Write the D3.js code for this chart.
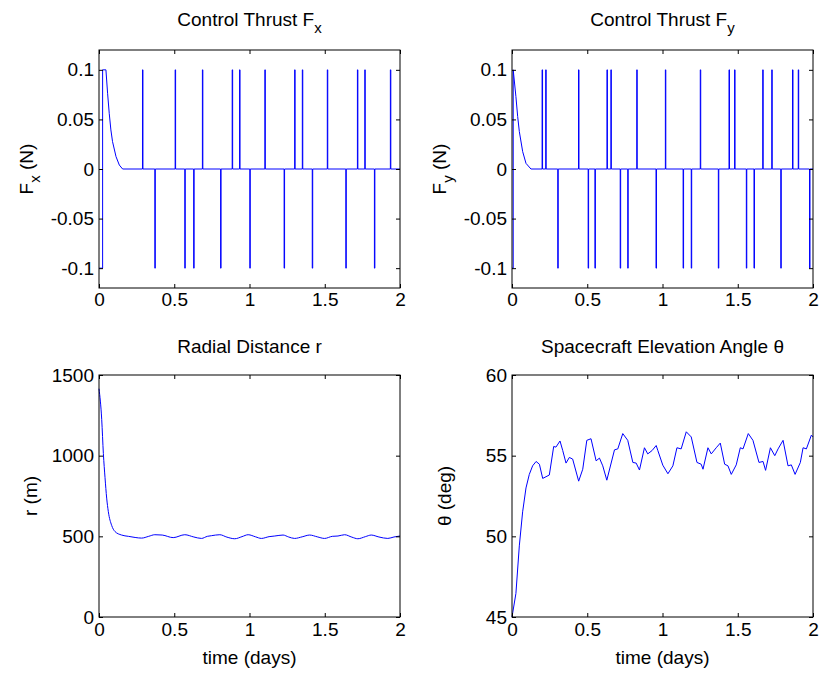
<!DOCTYPE html>
<html>
<head>
<meta charset="utf-8">
<script src="https://cdn.jsdelivr.net/npm/d3@7"></script>
<style>
  html, body { margin: 0; padding: 0; background: #fff; }
  svg { display: block; font-family: "Liberation Sans", Arial, Helvetica, sans-serif; }
</style>
</head>
<body>
<svg id="chart" width="821" height="674"></svg>
<script>
// ---------------- DATA ----------------
const xTicks = [0, 0.5, 1, 1.5, 2];
const xTickLabels = ["0", "0.5", "1", "1.5", "2"];
const fTicks = [-0.1, -0.05, 0, 0.05, 0.1];
const fTickLabels = ["-0.1", "-0.05", "0", "0.05", "0.1"];
const rTicks = [0, 500, 1000, 1500];
const rTickLabels = ["0", "500", "1000", "1500"];
const thTicks = [45, 50, 55, 60];
const thTickLabels = ["45", "50", "55", "60"];

// Fx: initial segment (t, value) then thrust pulses
const fxStartT = [0, 0.024, 0.024, 0.046, 0.057, 0.068, 0.079, 0.090, 0.113, 0.135, 0.157];
const fxStartV = [-0.1, -0.1, 0.1, 0.1, 0.0764, 0.0562, 0.0394, 0.0276, 0.0125, 0.004, 0];
const fxPulseUp = [0.289, 0.506, 0.687, 0.885, 0.934, 1.102, 1.300, 1.351, 1.517, 1.717, 1.766, 1.936];
const fxPulseDown = [0.371, 0.570, 0.629, 0.808, 1.002, 1.230, 1.417, 1.640, 1.830];

// Fy
const fyStartT = [0, 0.008, 0.008, 0.026, 0.0376, 0.0487, 0.071, 0.093, 0.126];
const fyStartV = [-0.1, -0.1, 0.1, 0.073, 0.053, 0.0377, 0.0175, 0.0057, 0];
const fyPulseUp = [0.200, 0.224, 0.442, 0.631, 0.657, 0.829, 1.019, 1.251, 1.442, 1.479, 1.666, 1.726, 1.864, 1.902];
const fyPulseDown = [0.304, 0.506, 0.551, 0.719, 0.769, 0.957, 1.137, 1.191, 1.371, 1.557, 1.608, 1.786, 1.977];

const pulseWidth = 0.003;

// radial distance r (m)
const rT = [0, 0.018, 0.029, 0.04, 0.051, 0.062, 0.084, 0.106, 0.15, 0.195, 0.24, 0.283, 0.33, 0.371, 0.42, 0.493, 0.57, 0.63, 0.681, 0.72, 0.747, 0.803, 0.85, 0.902, 0.95, 0.991, 1.04, 1.079, 1.13, 1.168, 1.223, 1.26, 1.30, 1.35, 1.40, 1.45, 1.499, 1.55, 1.588, 1.632, 1.68, 1.72, 1.77, 1.809, 1.86, 1.919, 1.96, 2.0];
const rV = [1415, 1225, 1013, 864, 737, 653, 568, 530, 508, 500, 493, 489, 500, 510, 508, 492, 510, 496, 487, 500, 504, 510, 495, 485, 498, 510, 497, 487, 498, 502, 508, 496, 487, 497, 508, 497, 487, 500, 502, 510, 495, 485, 498, 508, 496, 487, 496, 502];

// elevation angle theta (deg)
const thT = [0, 0.026, 0.0486, 0.0707, 0.093, 0.115, 0.137, 0.160, 0.182, 0.204, 0.248, 0.277, 0.292, 0.319, 0.337, 0.359, 0.381, 0.403, 0.443, 0.470, 0.497, 0.525, 0.559, 0.581, 0.603, 0.630, 0.681, 0.703, 0.736, 0.769, 0.803, 0.825, 0.847, 0.880, 0.902, 0.931, 0.958, 0.969, 1.002, 1.036, 1.069, 1.096, 1.124, 1.158, 1.191, 1.229, 1.257, 1.269, 1.302, 1.324, 1.357, 1.384, 1.413, 1.435, 1.457, 1.490, 1.517, 1.535, 1.570, 1.601, 1.641, 1.668, 1.685, 1.717, 1.746, 1.768, 1.801, 1.834, 1.856, 1.881, 1.916, 1.934, 1.956, 1.989, 2.0];
const thV = [45.0, 46.46, 49.41, 51.52, 53.0, 53.84, 54.37, 54.64, 54.47, 53.59, 53.80, 55.57, 55.53, 55.91, 55.32, 54.54, 54.89, 54.79, 53.42, 54.16, 55.95, 56.05, 54.68, 54.85, 54.37, 53.48, 55.36, 55.42, 56.37, 55.95, 54.58, 54.54, 54.11, 55.49, 55.11, 55.32, 55.63, 55.32, 54.41, 53.88, 54.37, 55.49, 55.42, 56.48, 56.16, 54.58, 54.47, 54.16, 55.49, 55.11, 55.49, 55.78, 54.47, 54.37, 53.84, 54.43, 55.49, 55.42, 56.37, 55.95, 54.58, 54.64, 54.09, 55.49, 55.0, 55.42, 55.95, 54.37, 54.43, 53.84, 54.58, 55.49, 55.42, 56.27, 56.16];

// ---------------- helpers ----------------
function buildThrust(startT, startV, up, down) {
  const pts = startT.map((t, i) => [t, startV[i]]);
  const pulses = up.map(t => [t, 0.1]).concat(down.map(t => [t, -0.1])).sort((a, b) => a[0] - b[0]);
  pulses.forEach(([t, v]) => {
    pts.push([t, 0], [t, v], [t + pulseWidth, v], [t + pulseWidth, 0]);
  });
  pts.push([2, 0]);
  return pts;
}

const svg = d3.select("#chart");
svg.append("rect").attr("width", 821).attr("height", 674).attr("fill", "#fff");

const FS = 19;
const SUB = 15;

function panel(opts) {
  const { x0, x1, y0, y1, yDomain, yTicks, yLabels, data, curve } = opts;
  const x = d3.scaleLinear().domain([0, 2]).range([x0, x1]);
  const y = d3.scaleLinear().domain(yDomain).range([y1, y0]);
  const g = svg.append("g");

  // line
  g.append("path")
    .datum(data)
    .attr("fill", "none")
    .attr("stroke", "#0000ff")
    .attr("stroke-width", 1)
    .attr("d", d3.line().x(d => x(d[0])).y(d => y(d[1])).curve(curve || d3.curveLinear));

  const fmtX = d => xTickLabels[xTicks.indexOf(d)];
  const fmtY = d => yLabels[yTicks.indexOf(d)];

  const axB = g.append("g").attr("transform", `translate(0,${y1})`)
    .call(d3.axisBottom(x).tickValues(xTicks).tickFormat(fmtX).tickSizeInner(-4).tickSizeOuter(0).tickPadding(opts.xPad));
  const axT = g.append("g").attr("transform", `translate(0,${y0})`)
    .call(d3.axisTop(x).tickValues(xTicks).tickFormat("").tickSizeInner(-4).tickSizeOuter(0));
  const axL = g.append("g").attr("transform", `translate(${x0},0)`)
    .call(d3.axisLeft(y).tickValues(yTicks).tickFormat(fmtY).tickSizeInner(-4).tickSizeOuter(0).tickPadding(5));
  const axR = g.append("g").attr("transform", `translate(${x1},0)`)
    .call(d3.axisRight(y).tickValues(yTicks).tickFormat("").tickSizeInner(-4).tickSizeOuter(0));
  [axB, axT, axL, axR].forEach(a => {
    a.select(".domain").remove();
    a.selectAll("line").attr("stroke", "#000");
    a.selectAll("text").attr("font-size", FS).attr("fill", "#000").attr("font-family", null);
  });

  // box
  g.append("rect").attr("x", x0).attr("y", y0).attr("width", x1 - x0).attr("height", y1 - y0)
    .attr("fill", "none").attr("stroke", "#000").attr("stroke-width", 1);

  // title
  const t = g.append("text").attr("x", (x0 + x1) / 2).attr("y", opts.titleY)
    .attr("text-anchor", "middle").attr("font-size", FS).attr("fill", "#000");
  t.append("tspan").text(opts.title);
  if (opts.titleSub) {
    t.append("tspan").attr("dy", 7).attr("font-size", SUB).text(opts.titleSub);
  }

  // y label
  const yl = g.append("text")
    .attr("transform", `translate(${opts.yLabelX},${(y0 + y1) / 2}) rotate(-90)`)
    .attr("text-anchor", "middle").attr("font-size", FS).attr("fill", "#000");
  yl.append("tspan").text(opts.yLabel[0]);
  if (opts.yLabel.length > 1) {
    yl.append("tspan").attr("dy", 7).attr("font-size", SUB).text(opts.yLabel[1]);
    yl.append("tspan").attr("dy", -7).text(opts.yLabel[2]);
  }

  if (opts.xLabel) {
    g.append("text").attr("x", (x0 + x1) / 2).attr("y", opts.xLabelY)
      .attr("text-anchor", "middle").attr("font-size", FS).attr("fill", "#000").text(opts.xLabel);
  }
}

panel({
  x0: 99, x1: 400, y0: 50, y1: 288, yDomain: [-0.12, 0.12], yTicks: fTicks, yLabels: fTickLabels,
  data: buildThrust(fxStartT, fxStartV, fxPulseUp, fxPulseDown), xPad: 5,
  title: "Control Thrust F", titleSub: "x", titleY: 26,
  yLabel: ["F", "x", " (N)"], yLabelX: 33
});
panel({
  x0: 512, x1: 813, y0: 50, y1: 288, yDomain: [-0.12, 0.12], yTicks: fTicks, yLabels: fTickLabels,
  data: buildThrust(fyStartT, fyStartV, fyPulseUp, fyPulseDown), xPad: 5,
  title: "Control Thrust F", titleSub: "y", titleY: 26,
  yLabel: ["F", "y", " (N)"], yLabelX: 446
});
panel({
  x0: 99, x1: 400, y0: 375, y1: 617, yDomain: [0, 1500], yTicks: rTicks, yLabels: rTickLabels,
  data: rT.map((t, i) => [t, rV[i]]), curve: d3.curveMonotoneX, xPad: 6,
  title: "Radial Distance r", titleY: 353,
  yLabel: ["r (m)"], yLabelX: 37, xLabel: "time (days)", xLabelY: 664
});
panel({
  x0: 512, x1: 813, y0: 375, y1: 617, yDomain: [45, 60], yTicks: thTicks, yLabels: thTickLabels,
  data: thT.map((t, i) => [t, thV[i]]), xPad: 6,
  title: "Spacecraft Elevation Angle θ", titleY: 353,
  yLabel: ["θ (deg)"], yLabelX: 451, xLabel: "time (days)", xLabelY: 664
});
</script>
</body>
</html>
